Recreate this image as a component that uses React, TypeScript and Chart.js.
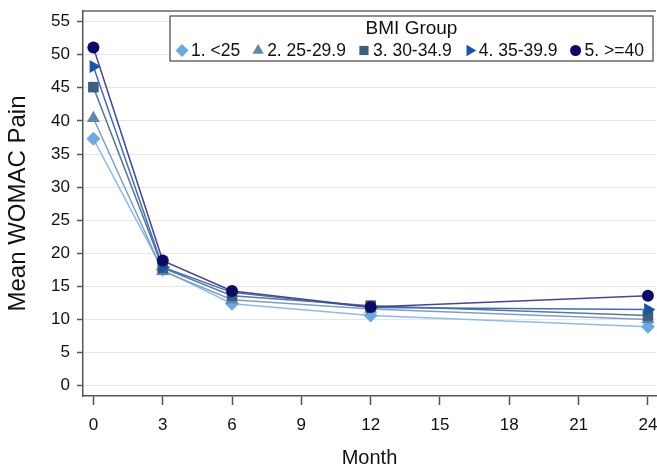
import React, { useEffect, useRef } from "react";
import { Chart, registerables } from "chart.js";

Chart.register(...registerables);

const months = [0, 3, 6, 12, 24];
const groupLabels = ["1. <25", "2. 25-29.9", "3. 30-34.9", "4. 35-39.9", "5. >=40"];
const bmiUnder25 = [37.3, 17.5, 12.4, 10.6, 8.9];
const bmi25to29 = [40.4, 17.3, 13.0, 11.6, 10.0];
const bmi30to34 = [45.1, 17.8, 13.6, 12.1, 10.6];
const bmi35to39 = [48.2, 17.9, 14.1, 11.8, 11.5];
const bmi40plus = [51.1, 18.9, 14.3, 11.9, 13.6];
const xTickValues = [0, 3, 6, 9, 12, 15, 18, 21, 24];
const yTickValues = [0, 5, 10, 15, 20, 25, 30, 35, 40, 45, 50, 55];

const FONT = "'Liberation Sans', Arial, Helvetica, sans-serif";

const seriesValues = [bmiUnder25, bmi25to29, bmi30to34, bmi35to39, bmi40plus];
const markerColors = ["#6fa8dc", "#5d87b3", "#3e5f80", "#1654a6", "#0b0b66"];
const lineColors = ["#8fbbe6", "#7f9fc2", "#5e7894", "#3f6fb3", "#4a4592"];
const pointStyles = ["rectRot", "triangle", "rect", "triangle", "circle"];
const pointRotations = [0, 0, 0, 90, 0];
const pointRadii = [7, 7.5, 7.5, 7.5, 6];

function drawMarker(ctx: CanvasRenderingContext2D, style: string, rot: number, x: number, y: number, r: number) {
  ctx.beginPath();
  if (style === "circle") {
    ctx.arc(x, y, r, 0, Math.PI * 2);
  } else if (style === "rect") {
    const s = r * Math.SQRT1_2;
    ctx.rect(x - s, y - s, 2 * s, 2 * s);
  } else if (style === "rectRot") {
    ctx.moveTo(x, y - r);
    ctx.lineTo(x + r, y);
    ctx.lineTo(x, y + r);
    ctx.lineTo(x - r, y);
    ctx.closePath();
  } else if (style === "triangle") {
    let a = (rot * Math.PI) / 180;
    ctx.moveTo(x + Math.sin(a) * r, y - Math.cos(a) * r);
    a += (2 * Math.PI) / 3;
    ctx.lineTo(x + Math.sin(a) * r, y - Math.cos(a) * r);
    a += (2 * Math.PI) / 3;
    ctx.lineTo(x + Math.sin(a) * r, y - Math.cos(a) * r);
    ctx.closePath();
  }
  ctx.fill();
}

const framePlugin = {
  id: "frameAndLegend",
  afterDraw(chart: any) {
    const ctx: CanvasRenderingContext2D = chart.ctx;
    const area = chart.chartArea;
    ctx.save();
    ctx.strokeStyle = "#666666";
    ctx.lineWidth = 1.5;
    ctx.beginPath();
    ctx.moveTo(area.left, area.top);
    ctx.lineTo(area.right, area.top);
    ctx.stroke();

    const boxLeft = area.right - 486;
    const boxTop = area.top + 5;
    const boxW = 483;
    const boxH = 45;
    ctx.fillStyle = "#ffffff";
    ctx.fillRect(boxLeft, boxTop, boxW, boxH);
    ctx.strokeStyle = "#444444";
    ctx.lineWidth = 1.2;
    ctx.strokeRect(boxLeft, boxTop, boxW, boxH);

    ctx.fillStyle = "#111111";
    ctx.textBaseline = "middle";
    ctx.textAlign = "center";
    ctx.font = `19px ${FONT}`;
    ctx.fillText("BMI Group", boxLeft + boxW / 2, boxTop + 13);

    ctx.font = `17.5px ${FONT}`;
    ctx.textAlign = "left";
    let x = boxLeft + 12;
    const y = boxTop + 34.5;
    chart.data.datasets.forEach((ds: any, i: number) => {
      ctx.fillStyle = markerColors[i];
      drawMarker(ctx, pointStyles[i], pointRotations[i], x, y, i === 4 ? 5.5 : 6.5);
      ctx.fillStyle = "#111111";
      const tx = x + 9;
      ctx.fillText(ds.label, tx, y + 0.5);
      x = tx + ctx.measureText(ds.label).width + 18;
    });
    ctx.restore();
  },
};

export default function App() {
  const ref = useRef<HTMLCanvasElement | null>(null);

  useEffect(() => {
    if (!ref.current) return;
    const datasets = seriesValues.map((vals, i) => ({
      label: groupLabels[i],
      data: months.map((m, j) => ({ x: m, y: vals[j] })),
      borderColor: lineColors[i],
      backgroundColor: markerColors[i],
      pointBackgroundColor: markerColors[i],
      pointBorderColor: markerColors[i],
      pointBorderWidth: 0,
      borderWidth: 1.5,
      pointStyle: pointStyles[i] as any,
      pointRotation: pointRotations[i],
      pointRadius: pointRadii[i],
      tension: 0,
      clip: false as any,
      order: 4 - i,
    }));

    const chart = new Chart(ref.current, {
      type: "line",
      data: { datasets },
      plugins: [framePlugin],
      options: {
        responsive: false,
        animation: false,
        devicePixelRatio: 1,
        layout: { autoPadding: false, padding: { top: 11, right: 1, left: 0, bottom: 0 } },
        plugins: { legend: { display: false }, tooltip: { enabled: false } },
        scales: {
          x: {
            type: "linear",
            min: -0.45,
            max: 24.35,
            afterBuildTicks: (scale: any) => {
              scale.ticks = xTickValues.map((v) => ({ value: v }));
            },
            afterFit: (scale: any) => {
              scale.height = 72;
              scale.paddingLeft = 0;
              scale.paddingRight = 0;
            },
            grid: {
              drawOnChartArea: false,
              drawTicks: true,
              tickLength: 9,
              tickColor: "#555555",
              tickWidth: 1.5,
            },
            border: { display: true, color: "#555555", width: 1.5 },
            ticks: {
              font: { family: FONT, size: 17 },
              color: "#111111",
              padding: 10,
              maxRotation: 0,
              autoSkip: false,
            },
            title: {
              display: true,
              text: "Month",
              font: { family: FONT, size: 20, lineHeight: 1 },
              color: "#111111",
              padding: { top: 0, bottom: 0 },
            },
          },
          y: {
            type: "linear",
            min: -1.55,
            max: 56.6,
            afterBuildTicks: (scale: any) => {
              scale.ticks = yTickValues.map((v) => ({ value: v }));
            },
            afterFit: (scale: any) => {
              scale.width = 83;
              scale.paddingTop = 0;
              scale.paddingBottom = 0;
            },
            grid: {
              drawOnChartArea: true,
              color: "#e6e6e6",
              lineWidth: 1,
              drawTicks: true,
              tickLength: 6,
              tickColor: "#555555",
              tickWidth: 1.5,
            },
            border: { display: true, color: "#555555", width: 1.5 },
            ticks: {
              font: { family: FONT, size: 17 },
              color: "#111111",
              padding: 7,
              autoSkip: false,
            },
            title: {
              display: true,
              text: "Mean WOMAC Pain",
              font: { family: FONT, size: 24, lineHeight: 1 },
              color: "#111111",
              padding: { top: 6, bottom: 0 },
            },
          },
        },
      },
    });
    return () => chart.destroy();
  }, []);

  return (
    <div style={{ position: "absolute", left: 0, top: 0, width: 657, height: 468, background: "#ffffff" }}>
      <canvas ref={ref} width={657} height={468} style={{ display: "block" }} />
    </div>
  );
}
